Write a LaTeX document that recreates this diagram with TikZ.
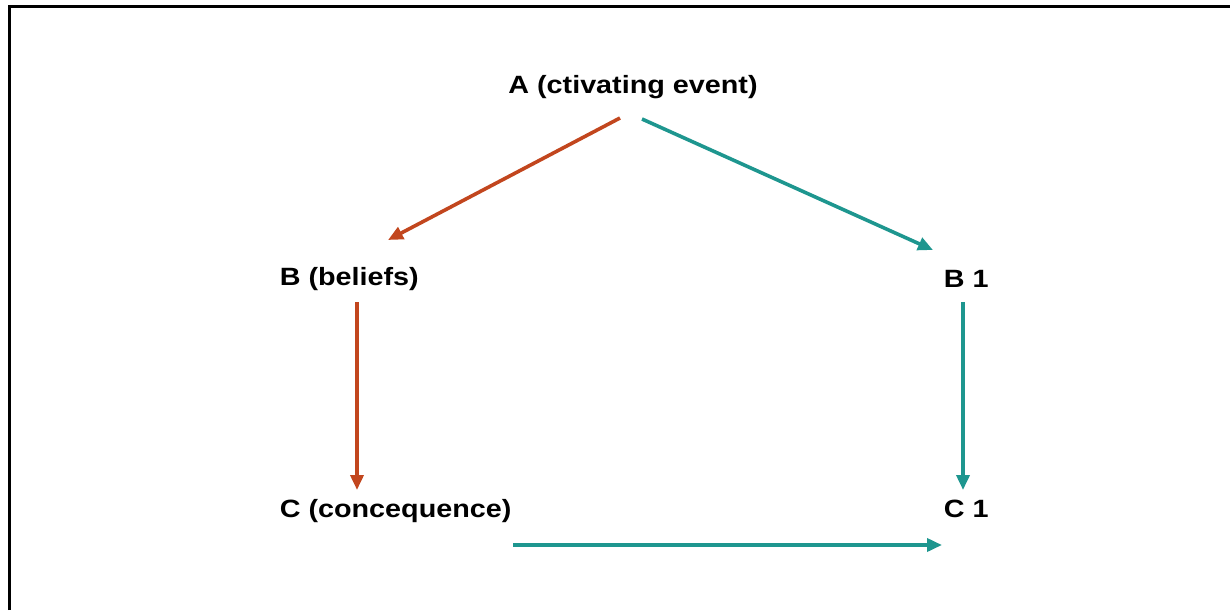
\documentclass[tikz,border=0pt]{standalone}
\usepackage{fontspec}
\newfontfamily\labelfont{Liberation Sans}[FakeStretch=1.15]
\usetikzlibrary{arrows.meta,positioning}
\definecolor{abcred}{HTML}{C2461E}
\definecolor{abcteal}{HTML}{1E968F}

\begin{document}
\begin{tikzpicture}[x=1pt, y=-1pt, ->, >={Triangle[length=15pt,width=13pt]}, line width=3.6pt]
\tikzstyle{every node}=[inner sep=0pt,text=black,font=\labelfont\bfseries\fontsize{25}{30}\selectfont]
\tikzstyle{redline}=[draw=abcred]
\tikzstyle{tealline}=[draw=abcteal]
\useasboundingbox (0,0) rectangle (1230,610);
\draw[-, line width=3pt] (9,610) -- (9,7) -- (1230,7);
\node[anchor=base]      (A)  at (633,93)  {A (ctivating event)};
\node[anchor=base west] (B)  at (278,285) {B (beliefs)};
\node[anchor=base west] (B1) at (942,287) {B 1};
\node[anchor=base west] (C)  at (278,517) {C (concequence)};
\node[anchor=base west] (C1) at (942,517) {C 1};
\path
([shift={(-13,25)}]A.base)     edge[redline]  ([shift={(110,-45)}]B.base west)
([shift={(9,26)}]A.base)       edge[tealline] ([shift={(-9,-37)}]B1.base west)
([shift={(79,17)}]B.base west) edge[redline]  ([shift={(79,-27)}]C.base west)
([shift={(21,15)}]B1.base west) edge[tealline] ([shift={(21,-27)}]C1.base west)
([shift={(235,28)}]C.base west) edge[tealline] ([shift={(0,28)}]C1.base west);
\end{tikzpicture}
\end{document}
